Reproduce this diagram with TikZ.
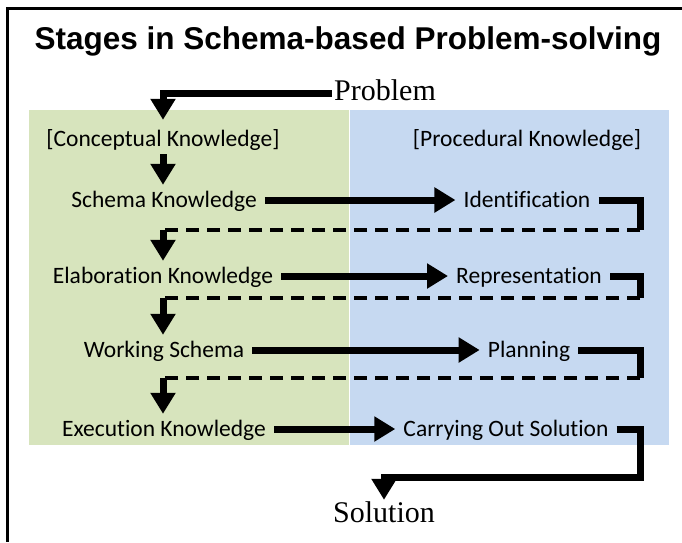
\documentclass[tikz,border=0pt]{standalone}
\usepackage{fontspec}
\usepackage{xcolor}
\usepackage{tikz}
\usetikzlibrary{shapes,arrows,arrows.meta}
\newfontfamily\headfont{Liberation Sans}
\newfontfamily\bodyfont[Ligatures=NoCommon]{Carlito}
\newfontfamily\endfont{Liberation Serif}
\definecolor{panelgreen}{RGB}{215,228,189}
\definecolor{panelblue}{RGB}{198,217,241}

\begin{document}
\begin{tikzpicture}[x=1pt, y=-1pt,
	headbox/.style={font=\headfont\bfseries\fontsize{31.5}{36}\selectfont, inner sep=0},
	endbox/.style={font=\endfont\fontsize{30}{34}\selectfont, anchor=base, text height=20pt, text depth=6pt, inner sep=2pt},
	textbox/.style={font=\bodyfont\fontsize{23.5}{28}\selectfont, anchor=base, text height=17pt, text depth=3pt, inner xsep=8pt, inner ysep=5pt},
	arr/.style={line width=7pt, -{Triangle[length=21pt,width=24pt]}},
	bar/.style={line width=7pt},
	dsh/.style={line width=4pt, dash pattern=on 13pt off 8pt}
]
\useasboundingbox (0,0) rectangle (682,542);
\fill[white] (0,0) rectangle (682,542);
\fill[panelgreen] (29,110) rectangle (349,445);
\fill[panelblue] (350,110) rectangle (669,445);
\draw[line width=3pt] (682,8) -- (7,8) -- (7,542);

\node[headbox] (title) at (348,41) {Stages in Schema-based Problem-solving};
\node[endbox] (prob) at (385,100) {Problem};
\node[endbox] (sol) at (384,522) {Solution};

%knowledge columns
\node[textbox] (ck) at (163,146) {[Conceptual Knowledge]};
\node[textbox] (pk) at (527,146) {[Procedural Knowledge]};
\node[textbox] (s1) at (164,207) {Schema Knowledge};
\node[textbox] (p1) at (527,207) {Identification};
\node[textbox] (s2) at (163,283) {Elaboration Knowledge};
\node[textbox] (p2) at (529,283) {Representation};
\node[textbox] (s3) at (164,357) {Working Schema};
\node[textbox] (p3) at (529,357) {Planning};
\node[textbox] (s4) at (164,436) {Execution Knowledge};
\node[textbox] (p4) at (506,436) {Carrying Out Solution};

\coordinate (c1) at (640,230);
\coordinate (c2) at (640,298);
\coordinate (c3) at (640,378);
\coordinate (c4) at (640,477);
\coordinate (d1) at (163,230);
\coordinate (d2) at (163,298);
\coordinate (d3) at (163,378);

\draw[arr] (prob.west) -| ([yshift=4pt]ck.north);
\draw[arr] (ck.south) -- (s1.north -| ck.south);
\draw[arr] (s1.east) -- (p1.west);
\draw[arr] (s2.east) -- (p2.west);
\draw[arr] (s3.east) -- (p3.west);
\draw[arr] (s4.east) -- (p4.west);
\draw[bar] (p1.east) -| (c1);
\draw[bar] (p2.east) -| (c2);
\draw[bar] (p3.east) -| (c3);
\draw[dsh] (c1) -- (d1);
\draw[dsh] (c2) -- (d2);
\draw[dsh] (c3) -- (d3);
\draw[arr] (d1) -- (d1 |- s2.north);
\draw[arr] (d2) -- (d2 |- s3.north);
\draw[arr] (d3) -- (d3 |- s4.north);
\draw[arr] (p4.east) -| (c4) -| (sol.north);
\end{tikzpicture}
\end{document}
